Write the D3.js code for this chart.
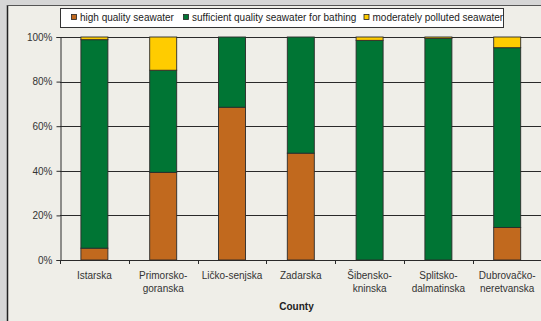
<!DOCTYPE html>
<html>
<head>
<meta charset="utf-8">
<script src="https://cdn.jsdelivr.net/npm/d3@7"></script>
<style>
  html, body { margin: 0; padding: 0; background: #d6d6d6; }
  svg { display: block; font-family: "Liberation Sans", Arial, sans-serif; }
</style>
</head>
<body>
<svg id="chart" width="541" height="321"></svg>
<script>
// Bathing water quality by county (share of sampling points, %)
const counties = [
  ["Istarska"],
  ["Primorsko-", "goranska"],
  ["Ličko-senjska"],
  ["Zadarska"],
  ["Šibensko-", "kninska"],
  ["Splitsko-", "dalmatinska"],
  ["Dubrovačko-", "neretvanska"]
];
const highQuality       = [5.3, 39.3, 68.5, 47.9, 0, 0, 14.6];
const sufficientQuality = [93.5, 45.8, 31.5, 52.1, 98.5, 99.4, 80.6];
const moderatelyPolluted = [1.2, 14.9, 0, 0, 1.5, 0.6, 4.8];
const seriesNames = ["high quality seawater", "sufficient quality seawater for bathing", "moderately polluted seawater"];
const seriesColors = ["#c1691e", "#007534", "#ffcc00"];
const yTicks = [0, 20, 40, 60, 80, 100];

const svg = d3.select("#chart");
const W = 541, H = 321;

// panel background with left/top frame
svg.append("rect").attr("x", 7).attr("y", 5).attr("width", W - 7).attr("height", H - 5).attr("fill", "#efeee8");
svg.append("line").attr("x1", 7.5).attr("x2", 7.5).attr("y1", 5).attr("y2", H).attr("stroke", "#222").attr("stroke-width", 1.5);
svg.append("line").attr("x1", 7).attr("x2", W).attr("y1", 5.5).attr("y2", 5.5).attr("stroke", "#555").attr("stroke-width", 1);

const keys = counties.map(c => c.join(""));
const x = d3.scaleBand().domain(keys).range([60, 541.6]).padding(0);
const y = d3.scaleLinear().domain([0, 100]).range([260, 37]);

const rows = keys.map((k, i) => ({ key: k, high: highQuality[i], suff: sufficientQuality[i], mod: moderatelyPolluted[i] }));
const stack = d3.stack().keys(["high", "suff", "mod"]);
const layers = stack(rows);

// gridlines
svg.append("g").selectAll("line").data(yTicks.filter(t => t > 0)).join("line")
  .attr("x1", 60).attr("x2", W)
  .attr("y1", d => Math.round(y(d)) + 0.5).attr("y2", d => Math.round(y(d)) + 0.5)
  .attr("stroke", "#2a2a2a").attr("stroke-width", 1);

// stacked bars
const barW = 27;
layers.forEach((layer, li) => {
  svg.append("g").selectAll("rect").data(layer.filter(d => d[1] - d[0] > 0)).join("rect")
    .attr("x", d => x(d.data.key) + x.bandwidth() / 2 - barW / 2)
    .attr("y", d => y(d[1]))
    .attr("width", barW)
    .attr("height", d => y(d[0]) - y(d[1]))
    .attr("fill", seriesColors[li])
    .attr("stroke", "#2b2b2b").attr("stroke-width", 0.9);
});

// y axis
const yAxis = d3.axisLeft(y).tickValues(yTicks).tickFormat(d => d + "%").tickSize(4).tickPadding(4);
const gy = svg.append("g").attr("transform", "translate(60.5,0)").call(yAxis);
gy.select(".domain").attr("stroke", "#2a2a2a");
gy.selectAll(".tick line").attr("stroke", "#2a2a2a");
gy.selectAll(".tick text").attr("font-size", 10).attr("fill", "#333").attr("font-family", "Liberation Sans, Arial, sans-serif");

// x axis: line and ticks at band boundaries
svg.append("line").attr("x1", 60).attr("x2", W).attr("y1", 260.5).attr("y2", 260.5).attr("stroke", "#2a2a2a");
svg.append("g").selectAll("line").data(keys).join("line")
  .attr("x1", d => Math.round(x(d)) + 0.5).attr("x2", d => Math.round(x(d)) + 0.5)
  .attr("y1", 260).attr("y2", 264).attr("stroke", "#2a2a2a");

// category labels
const lab = svg.append("g").attr("font-size", 10).attr("fill", "#333").attr("text-anchor", "middle");
counties.forEach((lines, i) => {
  const t = lab.append("text").attr("x", x(keys[i]) + x.bandwidth() / 2).attr("y", 279);
  lines.forEach((s, j) => t.append("tspan").attr("x", x(keys[i]) + x.bandwidth() / 2).attr("dy", j === 0 ? 0 : 13).text(s));
});

svg.append("text").attr("x", 296.5).attr("y", 310).attr("text-anchor", "middle")
  .attr("font-size", 10).attr("font-weight", "bold").attr("fill", "#222").text("County");

// legend
const lg = svg.append("g");
lg.append("rect").attr("x", 60.5).attr("y", 8.5).attr("width", 443).attr("height", 19)
  .attr("fill", "#fff").attr("stroke", "#333");
const legendX = [71.5, 183.5, 364];
seriesNames.forEach((n, i) => {
  lg.append("rect").attr("x", legendX[i]).attr("y", 14.5).attr("width", 5).attr("height", 5)
    .attr("fill", seriesColors[i]).attr("stroke", "#222").attr("stroke-width", 0.8);
  lg.append("text").attr("x", legendX[i] + 8.5).attr("y", 21).attr("font-size", 10).attr("fill", "#222").text(n);
});
</script>
</body>
</html>
